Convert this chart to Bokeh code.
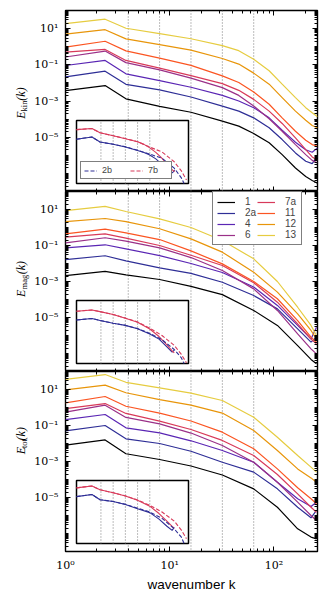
import numpy as np
from bokeh.plotting import figure
from bokeh.layouts import column, row
from bokeh.core.properties import value
from bokeh.models import (LogAxis, LogScale, FixedTicker, Span, Legend, LegendItem,
                          Range1d, CustomJSTickFormatter, BoxAnnotation)
from bokeh.embed import file_html
from bokeh.resources import INLINE

# ---------------- data (log10 of spectra) ----------------
K_KIN = [1, 2.4, 3.8, 8, 16, 32, 46, 64, 90, 120, 161, 202, 233, 262]
K_MAG = [1, 2.4, 3.8, 8, 16, 32, 64, 108, 169, 227, 256]
K_TOT = [1, 2.4, 3.8, 8, 16, 32, 64, 108, 169, 227, 256]
K_2B = [1, 2.4, 3.8, 8, 16, 32, 64, 128, 256, 384, 448]
K_7B = [1, 2.4, 3.8, 8, 16, 32, 64, 128, 256, 384, 512]

RUNS = ["1", "2a", "4", "6", "7a", "11", "12", "13"]
COLORS = ["#000000", "#2e2e96", "#5a26b4", "#9a3088", "#d83a5a", "#fb5522", "#e8950a", "#e6cc40"]

KIN_1 = [-2.43, -2.15, -2.88, -3.30, -3.62, -4.11, -4.39, -4.80, -5.31, -5.96, -6.70, -7.17, -7.39, -7.54]
KIN_2A = [-1.67, -1.35, -2.08, -2.39, -2.78, -3.28, -3.56, -3.93, -4.48, -5.13, -5.87, -6.33, -6.46, -6.06]
KIN_4 = [-1.04, -0.76, -1.50, -1.87, -2.24, -2.69, -3.00, -3.37, -3.93, -4.61, -5.28, -5.69, -5.83, -5.59]
KIN_6 = [-0.57, -0.24, -0.88, -1.28, -1.74, -2.26, -2.69, -3.28, -3.98, -4.67, -5.41, -5.96, -6.28, -6.43]
KIN_7A = [-0.30, -0.15, -0.76, -1.18, -1.60, -2.04, -2.41, -2.91, -3.56, -4.24, -5.04, -5.69, -6.09, -6.28]
KIN_11 = [-0.02, 0.30, -0.23, -0.63, -1.03, -1.61, -1.98, -2.50, -3.18, -3.93, -4.67, -5.17, -5.41, -5.50]
KIN_12 = [0.69, 0.94, 0.43, 0.11, -0.19, -0.65, -0.96, -1.46, -2.07, -2.81, -3.56, -4.06, -4.35, -4.48]
KIN_13 = [1.28, 1.52, 1.02, 0.72, 0.44, 0.06, -0.22, -0.69, -1.33, -2.07, -2.81, -3.37, -3.65, -3.87]

MAG_1 = [-2.67, -2.44, -2.63, -2.89, -3.27, -3.73, -4.61, -5.44, -6.56, -7.33, -7.57]
MAG_2A = [-1.78, -1.57, -1.85, -2.24, -2.55, -3.04, -3.78, -4.52, -5.63, -6.37, -6.09]
MAG_4 = [-1.13, -0.96, -1.19, -1.56, -2.00, -2.50, -3.31, -4.33, -5.44, -6.19, -5.54]
MAG_6 = [-0.85, -0.57, -0.76, -1.13, -1.67, -2.39, -3.41, -4.61, -5.91, -6.74, -7.02]
MAG_7A = [-0.54, -0.35, -0.59, -1.00, -1.54, -2.11, -3.07, -4.15, -5.35, -6.20, -6.46]
MAG_11 = [-0.35, -0.09, -0.30, -0.67, -1.30, -2.02, -3.00, -3.96, -5.17, -6.09, -6.37]
MAG_12 = [0.33, 0.50, 0.33, -0.07, -0.63, -1.37, -2.48, -3.59, -4.80, -5.72, -6.19]
MAG_13 = [0.94, 1.17, 0.89, 0.48, 0.00, -0.72, -1.74, -3.00, -4.43, -5.44, -6.00]

TOT_1 = [-2.09, -1.80, -2.57, -2.89, -3.25, -3.75, -4.52, -5.54, -6.74, -7.20, -7.30]
TOT_2A = [-1.30, -1.00, -1.74, -2.00, -2.43, -3.04, -3.59, -4.52, -5.54, -6.13, -5.72]
TOT_4 = [-0.67, -0.39, -1.13, -1.41, -1.85, -2.39, -3.04, -4.15, -5.07, -5.50, -5.26]
TOT_6 = [-0.26, 0.13, -0.55, -0.91, -1.42, -2.11, -3.04, -4.15, -5.26, -6.00, -6.28]
TOT_7A = [-0.06, 0.22, -0.33, -0.76, -1.22, -1.83, -2.67, -3.72, -4.80, -5.54, -5.82]
TOT_11 = [0.26, 0.61, 0.07, -0.31, -0.75, -1.37, -2.29, -3.41, -4.46, -5.07, -5.35]
TOT_12 = [0.98, 1.24, 0.82, 0.44, 0.13, -0.31, -1.28, -2.39, -3.41, -3.91, -4.15]
TOT_13 = [1.56, 1.83, 1.40, 1.09, 0.80, 0.39, -0.54, -1.65, -2.67, -3.31, -3.59]

# inset: higher-resolution runs 2b and 7b (dashed)
KIN_2B = [-1.67, -1.35, -2.08, -2.39, -2.75, -3.25, -3.80, -4.40, -5.80, -7.20, -8.00]
KIN_7B = [-0.30, -0.15, -0.76, -1.18, -1.58, -2.03, -2.80, -3.50, -4.90, -6.20, -7.50]
MAG_2B = [-1.78, -1.57, -1.85, -2.24, -2.55, -3.00, -3.70, -4.60, -6.00, -7.20, -8.00]
MAG_7B = [-0.54, -0.35, -0.59, -1.00, -1.52, -2.06, -2.95, -4.00, -5.40, -6.70, -7.90]
TOT_2B = [-1.30, -1.00, -1.74, -2.00, -2.40, -2.95, -3.50, -4.40, -5.90, -7.10, -8.00]
TOT_7B = [-0.06, 0.22, -0.33, -0.76, -1.20, -1.78, -2.55, -3.50, -4.80, -6.10, -7.30]

VLINES = [4, 8, 16, 32, 64]
X_MAJOR = [1, 10, 100]
Y_MAJOR = [1e-5, 1e-3, 1e-1, 1e1]
INSET_X = (1, 575)
INSET_Y = (1e-8, 1e1)

PANELS = [
    ("kin", K_KIN, [KIN_1, KIN_2A, KIN_4, KIN_6, KIN_7A, KIN_11, KIN_12, KIN_13], KIN_2B, KIN_7B),
    ("mag", K_MAG, [MAG_1, MAG_2A, MAG_4, MAG_6, MAG_7A, MAG_11, MAG_12, MAG_13], MAG_2B, MAG_7B),
    ("tot", K_TOT, [TOT_1, TOT_2A, TOT_4, TOT_6, TOT_7A, TOT_11, TOT_12, TOT_13], TOT_2B, TOT_7B),
]

# ---------------- styling helpers ----------------
SUP_JS = """
const sup = {"-":"\u207b","0":"\u2070","1":"\u00b9","2":"\u00b2","3":"\u00b3","4":"\u2074",
             "5":"\u2075","6":"\u2076","7":"\u2077","8":"\u2078","9":"\u2079"};
const e = Math.round(Math.log10(tick));
return "10" + String(e).split("").map(c => sup[c]).join("");
"""
BLANK_JS = "return '';"

x_minor = [m * 10.0 ** n for n in range(0, 3) for m in range(2, 10) if m * 10.0 ** n < 300]
y_minor = [m * 10.0 ** n for n in range(-8, 2) for m in range(1, 10)
           if not any(abs(m * 10.0 ** n / t - 1) < 1e-6 for t in Y_MAJOR)] + [100.0]


def style_axis(ax, ticker, labelled):
    ax.ticker = ticker
    ax.major_tick_in = 5
    ax.major_tick_out = 0
    ax.minor_tick_in = 3
    ax.minor_tick_out = 0
    ax.axis_line_color = None
    ax.major_tick_line_color = "black"
    ax.minor_tick_line_color = "black"
    if labelled:
        ax.formatter = CustomJSTickFormatter(code=SUP_JS)
        ax.major_label_text_font = "DejaVu Serif"
        ax.major_label_text_font_size = "11px"
        ax.major_label_text_color = "black"
        ax.major_label_standoff = 7
    else:
        ax.formatter = CustomJSTickFormatter(code=BLANK_JS)
        ax.major_label_text_font_size = "0px"
        ax.major_label_standoff = 0


FRAME_W = 252
LAB_W = 30                     # width of the strip holding the rotated y label
IN_LEFT, IN_W, IN_BOTTOM, IN_H = 11, 112, 8, 63   # inset box in frame pixels
x_rng = Range1d(1, 262)
SUB_W = {"kin": 10.9, "mag": 14.6, "tot": 9.0}
E_W, PAREN_W = 7.6, 13.3

ix_ppd = IN_W / np.log10(INSET_X[1] / INSET_X[0])
ix_lo = np.log10(INSET_X[0]) - IN_LEFT / ix_ppd
ix_hi = ix_lo + FRAME_W / ix_ppd

rows = []
figs = []
for i, (name, kk, series, s2b, s7b) in enumerate(PANELS):
    frame_h = 181 if i == 0 else 180
    b_top = 10 if i == 0 else 0
    b_bot = 41 if i == 2 else 0
    p = figure(x_axis_type="log", y_axis_type="log", x_range=x_rng,
               y_range=Range1d(1e-8, 1e2), frame_width=FRAME_W, frame_height=frame_h,
               min_border_left=65 - LAB_W, min_border_right=3,
               min_border_top=b_top, min_border_bottom=b_bot,
               toolbar_location=None, output_backend="svg")
    p.grid.visible = False
    p.outline_line_color = "black"
    p.outline_line_width = 1.4
    p.background_fill_color = "white"
    p.border_fill_color = None

    xt = FixedTicker(ticks=X_MAJOR, minor_ticks=x_minor)
    yt = FixedTicker(ticks=Y_MAJOR, minor_ticks=y_minor)
    bottom_axis = p.xaxis[0]
    style_axis(bottom_axis, xt, i == 2)
    style_axis(p.yaxis[0], yt, True)
    top = LogAxis()
    style_axis(top, xt, False)
    p.add_layout(top, "above")
    right = LogAxis()
    style_axis(right, yt, False)
    p.add_layout(right, "right")

    if i == 2:
        bottom_axis.axis_label = "wavenumber k"
        bottom_axis.axis_label_text_font = "Liberation Sans"
        bottom_axis.axis_label_text_font_style = "normal"
        bottom_axis.axis_label_text_font_size = "13.5px"
        bottom_axis.axis_label_text_color = "black"
        bottom_axis.axis_label_standoff = 2

    for k in VLINES:
        p.add_layout(Span(location=k, dimension="height", line_color="#7a7a7a",
                          line_dash="1 2", line_width=1, level="image"))

    for run, col, vals in zip(RUNS, COLORS, series):
        p.line(kk, 10.0 ** np.array(vals), line_color=col, line_width=1.2,
               level="underlay")

    # ---- inset drawn in its own log ranges on the same frame ----
    iy_ppd = IN_H / np.log10(INSET_Y[1] / INSET_Y[0])
    iy_lo = np.log10(INSET_Y[0]) - IN_BOTTOM / iy_ppd
    iy_hi = iy_lo + frame_h / iy_ppd
    p.extra_x_ranges = {"ix": Range1d(10 ** ix_lo, 10 ** ix_hi)}
    p.extra_y_ranges = {"iy": Range1d(10 ** iy_lo, 10 ** iy_hi)}
    p.extra_x_scales = {"ix": LogScale()}
    p.extra_y_scales = {"iy": LogScale()}
    p.add_layout(BoxAnnotation(left=INSET_X[0], right=INSET_X[1], bottom=INSET_Y[0],
                               top=INSET_Y[1], x_range_name="ix", y_range_name="iy",
                               fill_color="white", fill_alpha=1.0, line_color="black",
                               line_alpha=1.0, line_width=1.5, level="glyph"))
    n = len(VLINES)
    p.segment(x0=VLINES, x1=VLINES, y0=[INSET_Y[0]] * n, y1=[INSET_Y[1]] * n,
              x_range_name="ix", y_range_name="iy", line_color="#7a7a7a",
              line_dash="1 2", line_width=1, level="annotation")
    p.line(kk, 10.0 ** np.array(series[1]), line_color=COLORS[1], line_width=1.1,
           x_range_name="ix", y_range_name="iy", level="annotation")
    p.line(kk, 10.0 ** np.array(series[4]), line_color=COLORS[4], line_width=1.1,
           x_range_name="ix", y_range_name="iy", level="annotation")
    r2b = p.line(K_2B, 10.0 ** np.array(s2b), line_color=COLORS[1], line_width=1.1,
                 line_dash="4 2", x_range_name="ix", y_range_name="iy", level="annotation")
    r7b = p.line(K_7B, 10.0 ** np.array(s7b), line_color=COLORS[4], line_width=1.1,
                 line_dash="4 2", x_range_name="ix", y_range_name="iy", level="annotation")
    if i == 0:
        lg_in = Legend(items=[LegendItem(label="2b", renderers=[r2b]),
                              LegendItem(label="7b", renderers=[r7b])],
                       location=(IN_LEFT + 4, IN_BOTTOM + 4), orientation="horizontal",
                       label_text_font="Liberation Sans", label_text_font_size="9px",
                       glyph_width=13, glyph_height=9, label_height=9, label_standoff=5,
                       spacing=8, padding=3, margin=0, level="overlay",
                       border_line_color="black", border_line_width=1,
                       background_fill_alpha=1.0)
        p.add_layout(lg_in, "center")
    figs.append(p)

    # ---- y label strip: E_xxx(k), rotated, built from pieces ----
    h = b_top + frame_h + b_bot
    lab = figure(width=LAB_W, height=h, x_range=Range1d(0, LAB_W), y_range=Range1d(0, h),
                 min_border=0, x_axis_location=None, y_axis_location=None,
                 toolbar_location=None, output_backend="svg",
                 outline_line_color=None, background_fill_color=None,
                 border_fill_color=None)
    lab.grid.visible = False
    centre = b_bot + frame_h / 2 + 2.5
    total = E_W + SUB_W[name] + 0.5 + PAREN_W
    y_e = centre - total / 2
    lab.text(x=[20], y=[y_e], text=["E"], angle=np.pi / 2,
             text_font=value("Liberation Serif"), text_font_style="italic",
             text_font_size="12px", text_baseline="alphabetic", text_align="left",
             text_color="black")
    lab.text(x=[23], y=[y_e + E_W], text=[name], angle=np.pi / 2,
             text_font=value("Liberation Serif"), text_font_style="normal",
             text_font_size="8.5px", text_baseline="alphabetic", text_align="left",
             text_color="black")
    lab.text(x=[20], y=[y_e + E_W + SUB_W[name] + 0.5], text=["(k)"], angle=np.pi / 2,
             text_font=value("Liberation Serif"), text_font_style="italic",
             text_font_size="12px", text_baseline="alphabetic", text_align="left",
             text_color="black")
    rows.append(row(lab, p, spacing=0))

# main legend (in the middle panel, top right)
items = []
for run, col, r in zip(RUNS, COLORS, figs[1].renderers[:8]):
    items.append(LegendItem(label=run, renderers=[r]))
leg = Legend(items=items, location=(147, 126), ncols=2,
             label_text_font="Liberation Sans", label_text_font_size="10px",
             glyph_width=18, glyph_height=10, label_height=10, label_width=12,
             label_standoff=10, spacing=0, padding=4, margin=0, level="overlay",
             border_line_color="black", border_line_width=1, background_fill_alpha=1.0)
figs[1].add_layout(leg, "center")

layout = column(*rows, spacing=0)
open("out.html", "w").write(file_html(layout, INLINE))
